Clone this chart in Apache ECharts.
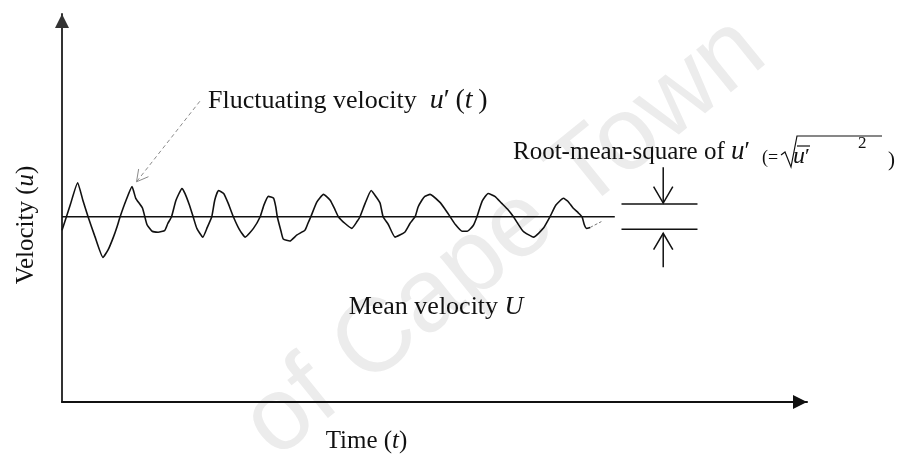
<!DOCTYPE html>
<html>
<head>
<meta charset="utf-8">
<script src="https://cdn.jsdelivr.net/npm/echarts@6/dist/echarts.min.js"></script>
<style>
  html, body { margin: 0; padding: 0; background: #ffffff; }
  #chart { width: 901px; height: 454px; }
</style>
</head>
<body>
<div id="chart"></div>
<script>
// Axis extents (arbitrary units): time 0–100, velocity 0–40
const timeRange = [0, 100];
const velocityRange = [0, 40];

// Instantaneous velocity u(t) = U + u'(t), as [time, velocity]
const velocityTrace = [
  [0, 17.7], [1.1, 20.3], [2.1, 22.6], [2.8, 20.8], [3.5, 19.1], [4.4, 17.1], [5.5, 14.9],
  [6.2, 15.7], [6.9, 17.0], [7.4, 18.1], [7.8, 19.1], [8.6, 20.8], [9.4, 22.2], [9.9, 21.0],
  [10.8, 20.0], [11.4, 18.3], [12.1, 17.6], [12.9, 17.5], [13.8, 17.7], [14.2, 18.4], [14.7, 19.1],
  [15.3, 20.8], [16.1, 22.0], [16.5, 21.5], [17.1, 20.3], [17.6, 19.1], [18.1, 17.9], [18.9, 17.0],
  [19.5, 18.0], [20.1, 19.1], [20.5, 20.8], [21.0, 21.8], [21.7, 21.5], [22.3, 20.5], [23.0, 19.1],
  [23.8, 17.8], [24.6, 17.0], [25.7, 17.9], [26.6, 19.1], [27.1, 20.3], [27.7, 21.2], [28.4, 21.0],
  [28.7, 20.1], [28.9, 19.1], [29.4, 17.6], [29.7, 16.8], [30.6, 16.6], [31.5, 17.2], [32.6, 17.7],
  [33.0, 18.4], [33.4, 19.1], [34.2, 20.6], [35.1, 21.4], [36.0, 20.8], [36.6, 19.9], [37.1, 19.1],
  [38.0, 18.4], [38.9, 17.9], [39.6, 18.6], [40.0, 19.1], [40.7, 20.5], [41.5, 21.8], [42.2, 21.1],
  [42.7, 20.5], [43.1, 19.1], [43.8, 18.3], [44.7, 17.0], [46.0, 17.5], [46.7, 18.4], [47.4, 19.1],
  [47.8, 20.1], [48.3, 20.8], [48.7, 21.2], [49.4, 21.4], [50.7, 20.6], [51.4, 19.9], [52.1, 19.1],
  [52.8, 18.3], [53.7, 17.6], [54.4, 17.6], [55.2, 18.2], [55.7, 19.1], [56.4, 20.7], [57.2, 21.5],
  [58.1, 21.2], [59.0, 20.5], [59.9, 19.8], [60.6, 19.1], [61.9, 17.6], [63.3, 17.0], [64.6, 17.9],
  [65.5, 19.1], [66.3, 20.3], [67.3, 21.0], [67.9, 20.7], [68.6, 20.0], [69.3, 19.5], [69.8, 19.1],
  [70.1, 18.3], [70.4, 17.9], [70.9, 18.0]
];
// faint trailing end of the record
const traceTail = [[70.9, 18.0], [72.4, 18.6]];

// Mean velocity U and the stretch of time it is drawn over
const meanVelocity = 19.1;
const meanSpan = [0, 74.2];

// RMS band marker: half-width of the band, its time span, the arrows
const rmsValue = 1.3;
const rmsSpan = [75.1, 85.3];
const rmsArrowTime = 80.7;
const rmsArrowTails = [24.2, 13.9];

// Leader from the "Fluctuating velocity" label to a crest of the trace
const pointerFrom = [18.5, 31.0];
const pointerTo = [10.0, 22.7];

const serif = '"Liberation Serif", "Times New Roman", serif';
const ink = '#111111';

const chart = echarts.init(document.getElementById('chart'), null, { renderer: 'canvas' });

// Open V arrowhead with its point at tip, opening back towards from
function vHead(tip, from, len, spread, style) {
  const ang = Math.atan2(from[1] - tip[1], from[0] - tip[0]);
  const p1 = [tip[0] + len * Math.cos(ang + spread), tip[1] + len * Math.sin(ang + spread)];
  const p2 = [tip[0] + len * Math.cos(ang - spread), tip[1] + len * Math.sin(ang - spread)];
  return { type: 'polyline', shape: { points: [p1, tip, p2] }, style: style };
}

function label(x, y, text, rich, align) {
  return {
    type: 'text', z: 10,
    style: {
      x: x, y: y, text: text, rich: rich,
      align: align || 'left', verticalAlign: 'middle',
      textAlign: align || 'left', textVerticalAlign: 'middle'
    }
  };
}

function richSet(size, mathSize) {
  return {
    r: { fontFamily: serif, fontSize: size, fill: ink, color: ink },
    m: { fontFamily: serif, fontSize: mathSize, fill: ink, color: ink },
    i: { fontFamily: serif, fontSize: mathSize, fontStyle: 'italic', fill: ink, color: ink }
  };
}

const option = {
  backgroundColor: '#ffffff',
  animation: false,
  grid: { left: 62, right: 94, top: 14, bottom: 52, containLabel: false, outerBoundsMode: 'none' },
  xAxis: {
    type: 'value',
    min: timeRange[0], max: timeRange[1],
    name: '{r|Time (}{i|t}{r|)}',
    nameLocation: 'middle',
    nameGap: 27,
    nameTextStyle: {
      padding: [0, 136, 0, 0],
      rich: {
        r: { fontFamily: serif, fontSize: 25, color: ink },
        i: { fontFamily: serif, fontSize: 25, fontStyle: 'italic', color: ink }
      }
    },
    axisLine: {
      show: true,
      symbol: ['none', 'triangle'],
      symbolSize: [14, 14],
      symbolOffset: [0, -7],
      lineStyle: { color: ink, width: 2 }
    },
    axisTick: { show: false },
    axisLabel: { show: false },
    splitLine: { show: false }
  },
  yAxis: {
    type: 'value',
    min: velocityRange[0], max: velocityRange[1],
    name: '{r|Velocity (}{i|u}{r|)}',
    nameLocation: 'middle',
    nameRotate: 90,
    nameGap: 23,
    nameTextStyle: {
      padding: [0, 34, 0, 0],
      rich: {
        r: { fontFamily: serif, fontSize: 25, color: ink },
        i: { fontFamily: serif, fontSize: 25, fontStyle: 'italic', color: ink }
      }
    },
    axisLine: {
      show: true,
      symbol: ['none', 'triangle'],
      symbolSize: [14, 14],
      symbolOffset: [0, -7],
      lineStyle: { color: '#333333', width: 2 }
    },
    axisTick: { show: false },
    axisLabel: { show: false },
    splitLine: { show: false }
  },
  graphic: [
    {
      type: 'text', z: -10, silent: true,
      x: 505, y: 238, rotation: 0.68,
      style: {
        text: 'of Cape Town',
        font: '104px "Liberation Sans", Arial, sans-serif',
        fill: '#ececec',
        align: 'center', verticalAlign: 'middle',
        textAlign: 'center', textVerticalAlign: 'middle'
      }
    },
    label(208, 101, '{r|Fluctuating velocity  }{i|u}{m|′\u2009(}{i|t}{m|\u2009)}', richSet(26, 28)),
    label(513, 152, '{r|Root-mean-square of }{i|u}{r|′}', richSet(25, 27)),
    {
      type: 'text', z: 10,
      style: {
        x: 762, y: 158, text: '(=',
        font: '18px ' + serif, fill: ink,
        align: 'left', verticalAlign: 'middle',
        textAlign: 'left', textVerticalAlign: 'middle'
      }
    },
    {
      type: 'polyline', z: 10,
      shape: { points: [[781, 155], [785, 152], [791, 167], [797, 136], [882, 136]] },
      style: { stroke: ink, lineWidth: 1.2, fill: null }
    },
    label(793, 157, '{i|u}{r|′}', richSet(22, 24)),
    {
      type: 'line', z: 10,
      shape: { x1: 797, y1: 146, x2: 810, y2: 146 },
      style: { stroke: ink, lineWidth: 1.2 }
    },
    {
      type: 'text', z: 10,
      style: {
        x: 858, y: 144, text: '2',
        font: '17px ' + serif, fill: ink,
        align: 'left', verticalAlign: 'middle',
        textAlign: 'left', textVerticalAlign: 'middle'
      }
    },
    {
      type: 'text', z: 10,
      style: {
        x: 888, y: 160, text: ')',
        font: '21px ' + serif, fill: ink,
        align: 'left', verticalAlign: 'middle',
        textAlign: 'left', textVerticalAlign: 'middle'
      }
    },
    label(436, 307, '{r|Mean velocity }{i|U}', richSet(26, 26), 'center')
  ],
  series: [
    {
      name: 'u(t)',
      type: 'line',
      data: velocityTrace,
      showSymbol: false,
      smooth: 0.15,
      lineStyle: { color: ink, width: 1.6 },
      z: 5
    },
    {
      name: 'tail',
      type: 'line',
      data: traceTail,
      showSymbol: false,
      lineStyle: { color: '#777777', width: 1, type: [3, 2] },
      z: 5
    },
    {
      name: 'U',
      type: 'line',
      data: [[meanSpan[0], meanVelocity], [meanSpan[1], meanVelocity]],
      showSymbol: false,
      lineStyle: { color: ink, width: 1.5 },
      z: 4
    },
    {
      name: 'rms',
      type: 'custom',
      coordinateSystem: 'cartesian2d',
      clip: false,
      data: [[rmsSpan[0], rmsSpan[1], meanVelocity, rmsValue]],
      encode: { x: [0, 1], y: 2 },
      renderItem: function (params, api) {
        const t0 = api.value(0), t1 = api.value(1), m = api.value(2), r = api.value(3);
        const hiL = api.coord([t0, m + r]), hiR = api.coord([t1, m + r]);
        const loL = api.coord([t0, m - r]), loR = api.coord([t1, m - r]);
        const topTail = api.coord([rmsArrowTime, rmsArrowTails[0]]);
        const hiTip = api.coord([rmsArrowTime, m + r]);
        const botTail = api.coord([rmsArrowTime, rmsArrowTails[1]]);
        const loTip = api.coord([rmsArrowTime, m - r]);
        hiTip[1] -= 1;
        loTip[1] += 4;
        const st = { stroke: ink, lineWidth: 1.5, fill: null };
        return {
          type: 'group',
          children: [
            { type: 'line', shape: { x1: hiL[0], y1: hiL[1], x2: hiR[0], y2: hiR[1] }, style: st },
            { type: 'line', shape: { x1: loL[0], y1: loL[1], x2: loR[0], y2: loR[1] }, style: st },
            { type: 'line', shape: { x1: topTail[0], y1: topTail[1], x2: hiTip[0], y2: hiTip[1] }, style: st },
            vHead(hiTip, topTail, 19, 0.53, st),
            { type: 'line', shape: { x1: botTail[0], y1: botTail[1], x2: loTip[0], y2: loTip[1] }, style: st },
            vHead(loTip, botTail, 19, 0.53, st)
          ]
        };
      },
      z: 6
    },
    {
      name: 'pointer',
      type: 'custom',
      coordinateSystem: 'cartesian2d',
      clip: false,
      data: [[pointerFrom[0], pointerFrom[1], pointerTo[0], pointerTo[1]]],
      encode: { x: [0, 2], y: [1, 3] },
      renderItem: function (params, api) {
        const a = api.coord([api.value(0), api.value(1)]);
        const b = api.coord([api.value(2), api.value(3)]);
        const st = { stroke: '#8a8a8a', lineWidth: 1, fill: null };
        return {
          type: 'group',
          children: [
            { type: 'line', shape: { x1: a[0], y1: a[1], x2: b[0], y2: b[1] }, style: Object.assign({ lineDash: [4, 3] }, st) },
            vHead(b, a, 13, 0.5, st)
          ]
        };
      },
      z: 6
    }
  ]
};

chart.setOption(option);
</script>
</body>
</html>
